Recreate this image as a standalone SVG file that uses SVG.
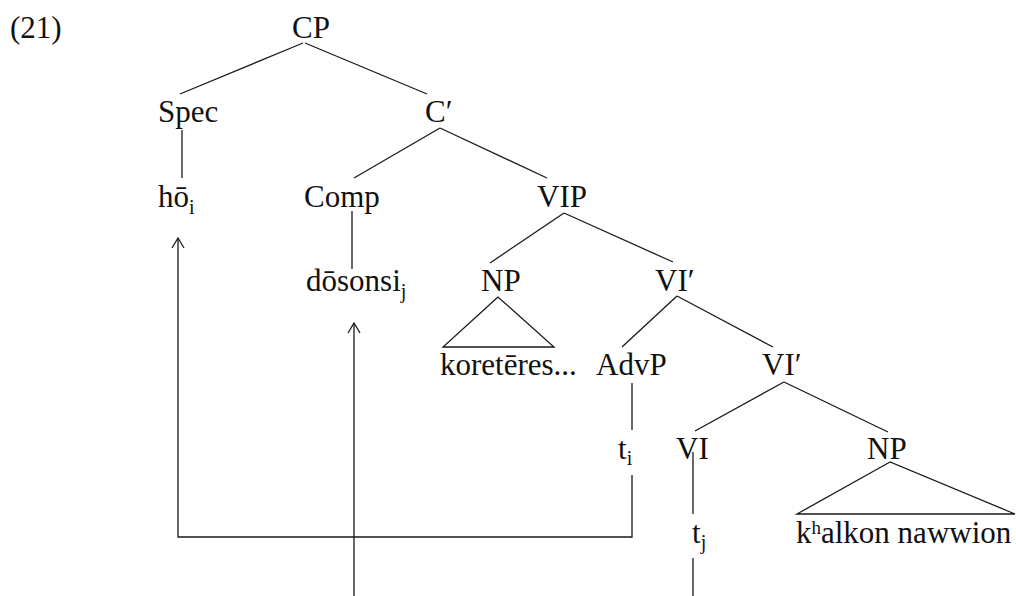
<svg xmlns="http://www.w3.org/2000/svg" width="1016" height="596" viewBox="0 0 1016 596">
  <style>
    text { font-family: "Liberation Serif", "Times New Roman", serif; font-size: 31px; fill: #111; }
    .sub { font-size: 20px; }
    .sup { font-size: 19px; }
    .edge { stroke: #1a1a1a; stroke-width: 1.3; fill: none; }
  </style>
  <defs>
    <marker id="open-arrow" markerUnits="userSpaceOnUse" markerWidth="14" markerHeight="16" refX="11" refY="7" orient="auto">
      <path d="M1,1 L11,7 L1,13" fill="none" stroke="#1a1a1a" stroke-width="1.3"/>
    </marker>
  </defs>

  <rect width="1016" height="596" fill="#ffffff"/>

  <text id="example-number" x="10" y="38">(21)</text>

  <!-- tree edges and movement paths -->
  <g id="connectors">
    <line class="edge" x1="303" y1="43" x2="180" y2="94"/>
    <line class="edge" x1="305" y1="43" x2="427" y2="94"/>
    <line class="edge" x1="182" y1="130" x2="182" y2="178"/>
    <line class="edge" x1="440" y1="128" x2="354" y2="178"/>
    <line class="edge" x1="440" y1="128" x2="547" y2="178"/>
    <line class="edge" x1="352" y1="211" x2="352" y2="269"/>
    <line class="edge" x1="564" y1="213" x2="490" y2="263"/>
    <line class="edge" x1="564" y1="213" x2="673" y2="262"/>
    <polygon class="edge" points="498,297 443,347 554,347"/>
    <line class="edge" x1="677" y1="296" x2="622" y2="347"/>
    <line class="edge" x1="677" y1="296" x2="773" y2="347"/>
    <line class="edge" x1="632" y1="383" x2="632" y2="430"/>
    <line class="edge" x1="784" y1="382" x2="695" y2="431"/>
    <line class="edge" x1="784" y1="382" x2="888" y2="432"/>
    <line class="edge" x1="693" y1="452" x2="693" y2="514"/>
    <polygon class="edge" points="890,462 797,514 1015,514"/>
    <!-- movement of the adverb to Spec -->
    <polyline class="edge" points="632,475 632,537 178,537 178,238" marker-end="url(#open-arrow)"/>
    <!-- movement of the verb to Comp -->
    <line class="edge" x1="693" y1="558" x2="693" y2="596"/>
    <line class="edge" x1="354" y1="596" x2="354" y2="323" marker-end="url(#open-arrow)"/>
  </g>

  <g id="node-cp"><text x="292" y="38">CP</text></g>
  <g id="node-spec"><text x="158" y="122">Spec</text></g>
  <g id="node-cbar"><text x="425" y="122">C′</text></g>
  <g id="node-ho"><text x="158" y="207">hō<tspan class="sub" dy="7">i</tspan></text></g>
  <g id="node-comp"><text x="304" y="207">Comp</text></g>
  <g id="node-vip"><text x="537" y="207">VIP</text></g>
  <g id="node-dosonsi"><text x="306" y="291">dōsonsi<tspan class="sub" dy="7">j</tspan></text></g>
  <g id="node-np1"><text x="481" y="291">NP</text></g>
  <g id="node-vibar1"><text x="655" y="291">VI′</text></g>
  <g id="node-koreteres"><text x="440" y="375">koretēres...</text></g>
  <g id="node-advp"><text x="596" y="375">AdvP</text></g>
  <g id="node-vibar2"><text x="762" y="375">VI′</text></g>
  <g id="node-ti"><text x="618" y="459">t<tspan class="sub" dy="6">i</tspan></text></g>
  <g id="node-vi"><text x="676" y="459">VI</text></g>
  <g id="node-np2"><text x="867" y="459">NP</text></g>
  <g id="node-tj"><text x="692" y="543">t<tspan class="sub" dy="6">j</tspan></text></g>
  <g id="node-khalkon"><text x="796" y="543">k<tspan class="sup" dy="-9">h</tspan><tspan dy="9">alkon nawwion</tspan></text></g>
</svg>
